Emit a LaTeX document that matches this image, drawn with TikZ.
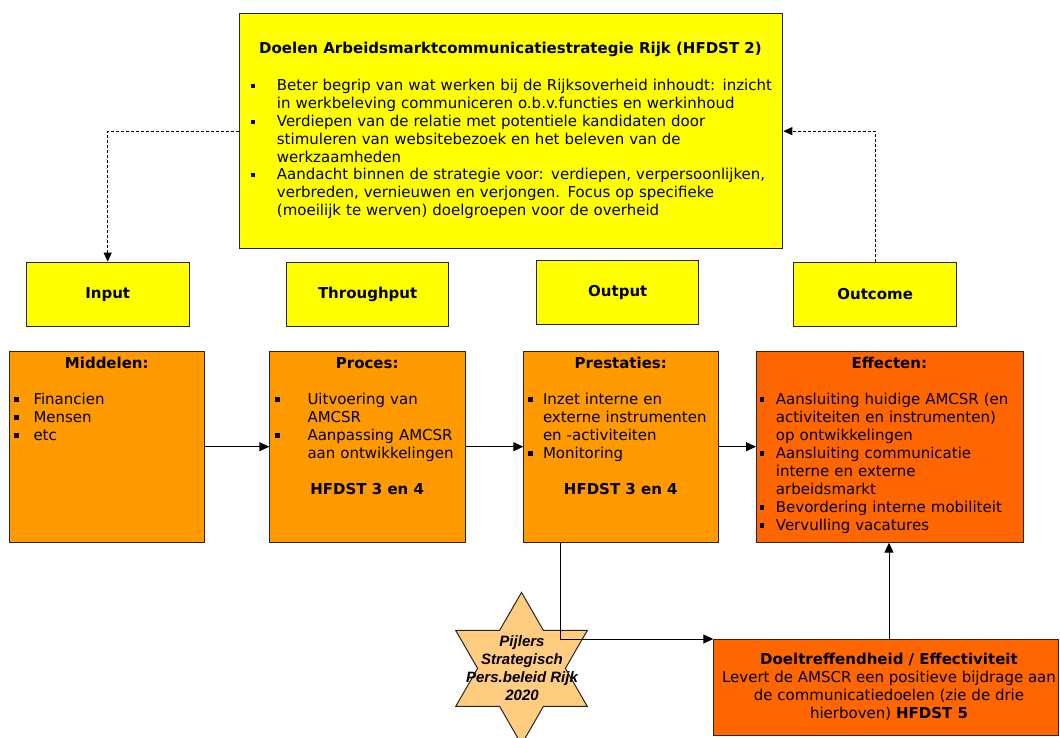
\documentclass[tikz,border=0pt]{standalone}
\usepackage{fontspec}
\setmainfont{DejaVu Sans}
\newfontfamily\sterfont{Liberation Sans}
\usetikzlibrary{arrows.meta}
\definecolor{geel}{HTML}{FFFF00}
\definecolor{oranje}{HTML}{FF9900}
\definecolor{rood}{HTML}{FF6600}
\definecolor{licht}{HTML}{FFCC80}
\newcommand{\tekst}{\fontsize{15}{18}\selectfont}
\newcommand{\punt}[2]{\hangindent=#1\hangafter=1\noindent\makebox[#1][l]{\rule[2.5pt]{4.5pt}{4.5pt}}#2\par}

\begin{document}
\begin{tikzpicture}[x=1pt,y=-1pt,
  vak/.style={draw=black!85,line width=1pt,anchor=north west,inner sep=0},
  kop/.style={font=\tekst\bfseries,inner sep=0,anchor=base},
  lijst/.style={font=\tekst,inner sep=0,anchor=base west,align=left},
  pijl/.style={line width=1pt,-{Triangle[length=10pt,width=9pt]}},
  stippel/.style={line width=0.8pt,dash pattern=on 3pt off 2pt,-{Triangle[length=9pt,width=8pt]}}]
\useasboundingbox (0,0) rectangle (1060,738);

\node [vak,fill=geel,minimum width=543.6,minimum height=235.3] (doelen) at (238.7,13) {};
\node [kop] (doelen kop) at (510.5,54) {Doelen Arbeidsmarktcommunicatiestrategie Rijk (HFDST 2)};
\node [lijst,text width=528,font=\fontsize{15}{17.8}\selectfont] (doelen lijst) at (250.7,91) {%
  \punt{26pt}{Beter begrip van wat werken bij de Rijksoverheid inhoudt: inzicht\newline in werkbeleving communiceren o.b.v.functies en werkinhoud}
  \punt{26pt}{Verdiepen van de relatie met potentiele kandidaten door\newline stimuleren van websitebezoek en het beleven van de\newline werkzaamheden}
  \punt{26pt}{Aandacht binnen de strategie voor: verdiepen, verpersoonlijken,\newline verbreden, vernieuwen en verjongen. Focus op specifieke\newline (moeilijk te werven) doelgroepen voor de overheid}};

\node [vak,fill=geel,minimum width=163,minimum height=64,font=\tekst\bfseries] (input) at (25.7,261.7) {Input};
\node [vak,fill=geel,minimum width=162.3,minimum height=64,font=\tekst\bfseries] (throughput) at (286,261.7) {Throughput};
\node [vak,fill=geel,minimum width=162.2,minimum height=64,font=\tekst\bfseries] (output) at (536.2,259.7) {Output};
\node [vak,fill=geel,minimum width=162.7,minimum height=64,font=\tekst\bfseries] (outcome) at (793.3,261.7) {Outcome};

\node [vak,fill=oranje,minimum width=195,minimum height=191] (middelen) at (9.3,350.7) {};
\node [vak,fill=oranje,minimum width=195.7,minimum height=191] (proces) at (269.3,350.7) {};
\node [vak,fill=oranje,minimum width=195,minimum height=191] (prestaties) at (523.3,350.7) {};
\node [vak,fill=rood,minimum width=266.7,minimum height=191] (effecten) at (756,350.7) {};

\node [kop] (middelen kop) at (106.8,368) {Middelen:};
\node [kop] (proces kop) at (367.2,368) {Proces:};
\node [kop] (prestaties kop) at (620.8,368) {Prestaties:};
\node [kop] (effecten kop) at (889.3,368) {Effecten:};

\node [lijst,text width=185] (middelen lijst) at (14,404) {%
  \punt{19.3pt}{Financien}
  \punt{19.3pt}{Mensen}
  \punt{19.3pt}{etc}};
\node [lijst,text width=185] (proces lijst) at (275,404) {%
  \punt{32.3pt}{Uitvoering van\newline AMCSR}
  \punt{32.3pt}{Aanpassing AMCSR\newline aan ontwikkelingen}};
\node [lijst,text width=185] (prestaties lijst) at (528.2,404) {%
  \punt{14.6pt}{Inzet interne en\newline externe instrumenten\newline en -activiteiten}
  \punt{14.6pt}{Monitoring}};
\node [lijst,text width=262] (effecten lijst) at (759.5,404) {%
  \punt{16.2pt}{Aansluiting huidige AMCSR (en\newline activiteiten en instrumenten)\newline op ontwikkelingen}
  \punt{16.2pt}{Aansluiting communicatie\newline interne en externe\newline arbeidsmarkt}
  \punt{16.2pt}{Bevordering interne mobiliteit}
  \punt{16.2pt}{Vervulling vacatures}};

\node [kop] (proces hfdst) at (367.2,494) {HFDST 3 en 4};
\node [kop] (prestaties hfdst) at (620.8,494) {HFDST 3 en 4};

\node [vak,fill=rood,minimum width=344.7,minimum height=96] (doel) at (713.3,639) {};
\node [font=\tekst,align=center,inner sep=0] (doel tekst) at (889,686.5)
  {\textbf{Doeltreffendheid / Effectiviteit}\\Levert de AMSCR een positieve bijdrage aan\\de communicatiedoelen (zie de drie\\hierboven) \textbf{HFDST 5}};

% ster
\draw [draw=black!85,line width=1pt,fill=licht,shift={(521.5,668.4)}]
  (0,-76) -- (21.9,-38) -- (65.8,-38) -- (43.9,0) -- (65.8,38) -- (21.9,38)
  -- (0,76) -- (-21.9,38) -- (-65.8,38) -- (-43.9,0) -- (-65.8,-38) -- (-21.9,-38) -- cycle;
\node [font=\sterfont\bfseries\itshape\fontsize{15}{17.8}\selectfont,align=center,inner sep=0] (pijlers) at (522,668)
  {Pijlers\\Strategisch\\Pers.beleid Rijk\\2020};

\coordinate (uitgang) at (560.7,541.7);
\coordinate (doel top) at (889,639);

\draw [stippel] (doelen.west) -| (input.north);
\draw [stippel] (outcome.north) |- (doelen.east);
\draw [pijl] (middelen) -- (proces);
\draw [pijl] (proces) -- (prestaties);
\draw [pijl] (prestaties) -- (effecten);
\draw [pijl] (uitgang) |- (doel.north west);
\draw [pijl] (doel top) -- (doel top |- effecten.south);
\end{tikzpicture}
\end{document}
